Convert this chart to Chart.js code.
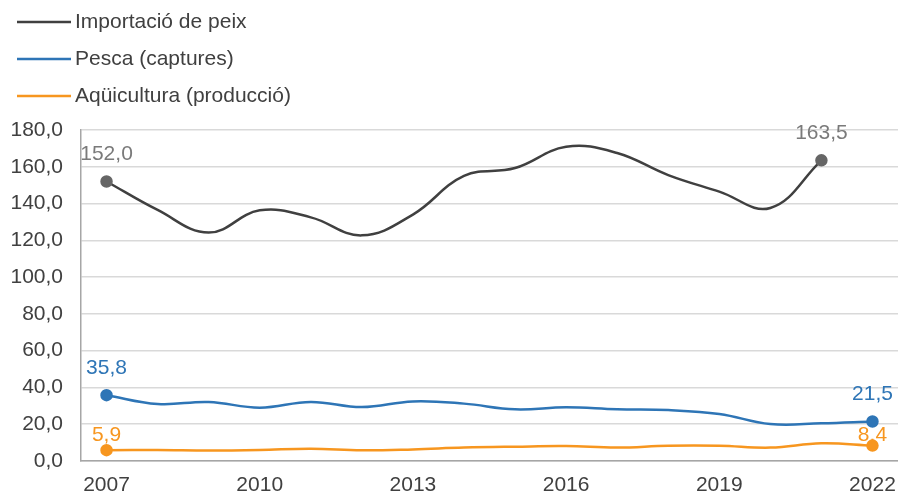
<!DOCTYPE html>
<html lang="ca">
<head>
    <meta charset="UTF-8">
    <title>Importació, pesca i aqüicultura</title>
    <script src="https://cdn.jsdelivr.net/npm/chart.js"></script>
    <style>
        html, body { margin: 0; padding: 0; background: #fff; }
        #wrap { position: relative; width: 898px; height: 494px; }
    </style>
</head>
<body>
    <div id="wrap">
        <canvas id="myChart" width="898" height="494"></canvas>
    </div>
<script>
    var years = ['2007','2008','2009','2010','2011','2012','2013','2014','2015','2016','2017','2018','2019','2020','2021','2022'];
    var importacio = [152.0, 136.5, 124.2, 136.3, 132.5, 122.7, 134.0, 155.0, 159.3, 170.9, 167.5, 155.5, 146.5, 137.6, 163.5, null];
    var pesca = [35.8, 31.0, 32.1, 29.0, 32.1, 29.3, 32.4, 31.2, 28.1, 29.2, 28.1, 27.7, 25.6, 20.1, 20.5, 21.5];
    var aquicultura = [5.9, 6.0, 5.7, 6.0, 6.7, 5.8, 6.3, 7.3, 7.8, 8.1, 7.3, 8.3, 8.3, 7.3, 9.6, 8.4];
    var yTicks = [0, 20, 40, 60, 80, 100, 120, 140, 160, 180];
    var seriesNames = ['Importació de peix', 'Pesca (captures)', 'Aqüicultura (producció)'];

    var FONT = '"Liberation Sans", Arial, sans-serif';

    function comma(v){
        return v.toFixed(1).replace('.', ',');
    }

    // first and last point that has a value
    function ends(data){
        var first = -1, last = -1;
        for(var i = 0; i < data.length; i++){
            if(data[i] !== null){
                if(first < 0) first = i;
                last = i;
            }
        }
        return [first, last];
    }

    function endRadius(ctx){
        var e = ends(ctx.dataset.data);
        return (ctx.dataIndex === e[0] || ctx.dataIndex === e[1]) ? 5 : 0;
    }

    // labels on first / last point
    var endLabels = {
        id: 'endLabels',
        afterDatasetsDraw: function(chart){
            var c = chart.ctx;
            c.save();
            c.font = '21px ' + FONT;
            c.textAlign = 'center';
            c.textBaseline = 'middle';
            chart.data.datasets.forEach(function(ds, di){
                var meta = chart.getDatasetMeta(di);
                var e = ends(ds.data);
                c.fillStyle = ds.labelColor;
                [e[0], e[1]].forEach(function(idx, k){
                    var p = meta.data[idx];
                    c.fillText(comma(ds.data[idx]), p.x, p.y - ds.labelLift[k]);
                });
            });
            c.restore();
        }
    };

    // legend stacked in the top-left corner
    var cornerLegend = {
        id: 'cornerLegend',
        afterDraw: function(chart){
            var c = chart.ctx;
            c.save();
            c.font = '21px ' + FONT;
            c.textBaseline = 'middle';
            c.textAlign = 'left';
            chart.data.datasets.forEach(function(ds, i){
                var y = 22 + i * 37;
                c.strokeStyle = ds.borderColor;
                c.lineWidth = 2.5;
                c.beginPath();
                c.moveTo(17, y);
                c.lineTo(71, y);
                c.stroke();
                c.fillStyle = '#404040';
                c.fillText(ds.label, 75, y);
            });
            c.restore();
        }
    };

    new Chart(document.getElementById('myChart'), {
        type: 'line',
        data: {
            labels: years,
            datasets: [
                {
                    label: seriesNames[0],
                    data: importacio,
                    borderColor: '#404040',
                    backgroundColor: '#666666',
                    pointBackgroundColor: '#666666',
                    pointBorderColor: '#666666',
                    labelColor: '#7a7a7a',
                    labelLift: [27, 27],
                    borderWidth: 2.5,
                    tension: 0.4,
                    pointRadius: endRadius,
                    pointHoverRadius: endRadius
                },
                {
                    label: seriesNames[1],
                    data: pesca,
                    borderColor: '#2E75B6',
                    backgroundColor: '#2E75B6',
                    labelColor: '#2E75B6',
                    labelLift: [27, 27],
                    borderWidth: 2.5,
                    tension: 0.4,
                    pointRadius: endRadius,
                    pointHoverRadius: endRadius
                },
                {
                    label: seriesNames[2],
                    data: aquicultura,
                    borderColor: '#F7961F',
                    backgroundColor: '#F7961F',
                    labelColor: '#F7961F',
                    labelLift: [15, 10],
                    borderWidth: 2.5,
                    tension: 0.4,
                    pointRadius: endRadius,
                    pointHoverRadius: endRadius
                }
            ]
        },
        options: {
            responsive: false,
            animation: false,
            layout: {
                autoPadding: false,
                padding: { top: 130, right: 0, left: 0, bottom: 0 }
            },
            plugins: {
                legend: { display: false },
                tooltip: { enabled: false }
            },
            scales: {
                x: {
                    offset: true,
                    grid: { display: false, drawTicks: false },
                    border: { display: true, color: '#a6a6a6', width: 1.5 },
                    ticks: {
                        autoSkip: false,
                        maxRotation: 0,
                        padding: 12,
                        color: '#404040',
                        font: { size: 21, family: FONT },
                        callback: function(val, index){
                            return index % 3 === 0 ? this.getLabelForValue(val) : '';
                        }
                    },
                    afterFit: function(axis){
                        axis.height = 33;
                        // plot runs to the right edge of the canvas
                        axis.paddingLeft = 0;
                        axis.paddingRight = 0;
                    }
                },
                y: {
                    min: yTicks[0],
                    max: yTicks[yTicks.length - 1],
                    grid: { color: '#d9d9d9', lineWidth: 1.5, drawTicks: false },
                    border: { display: true, color: '#a6a6a6', width: 1.5 },
                    afterBuildTicks: function(axis){
                        axis.ticks = yTicks.map(function(v){ return { value: v }; });
                    },
                    ticks: {
                        padding: 18,
                        color: '#404040',
                        font: { size: 21, family: FONT },
                        callback: function(v){ return comma(v); }
                    },
                    afterFit: function(axis){ axis.width = 81; }
                }
            }
        },
        plugins: [endLabels, cornerLegend]
    });
</script>
</body>
</html>
